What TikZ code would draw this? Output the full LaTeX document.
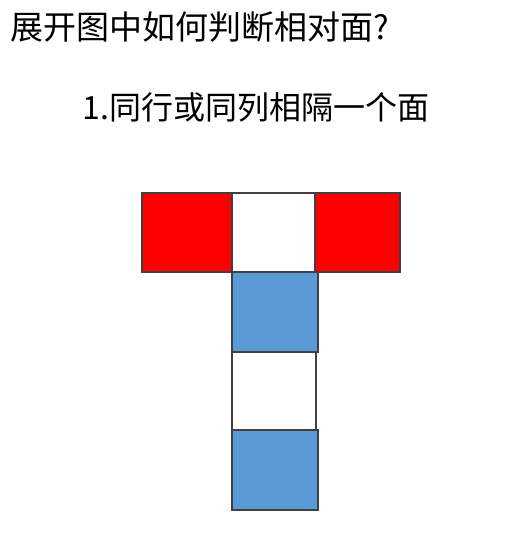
\documentclass[tikz,border=0pt]{standalone}
\usepackage{fontspec}
\usepackage{xcolor}
\usepackage{tikz}
\newfontfamily\cjk{Noto Sans CJK SC}
\definecolor{FaceRed}{HTML}{FF0000}
\definecolor{FaceBlue}{HTML}{5B9BD5}
\definecolor{FaceLine}{HTML}{404040}
\tikzset{
  face/.style={draw=FaceLine,line width=1.2pt,inner sep=0pt,outer sep=0pt},
  headline/.style={font=\cjk\fontsize{33}{40}\selectfont,inner sep=0pt}
}
\begin{document}
\begin{tikzpicture}[x=1pt,y=1pt]
\path[use as bounding box] (0,0) rectangle (521,542);
\fill[white] (0,0) rectangle (521,542);
\node[headline,anchor=base west] (title) at (10,502) {展开图中如何判断相对面?};
\node[headline,anchor=base,font=\cjk\fontsize{32}{40}\selectfont] (rule) at (256,422) {1.同行或同列相隔一个面};
\node[face,fill=FaceRed,minimum width=90,minimum height=79] (left) at (187,309.5) {};
\node[face,fill=white,minimum width=83,minimum height=79] (top) at (273.5,309.5) {};
\node[face,fill=FaceRed,minimum width=85,minimum height=79] (right) at (357.5,309.5) {};
\node[face,fill=FaceBlue,minimum width=86,minimum height=80] (front) at (275,230) {};
\node[face,fill=white,minimum width=84,minimum height=78] (bottom) at (274,151) {};
\node[face,fill=FaceBlue,minimum width=86,minimum height=80] (back) at (275,72) {};
\end{tikzpicture}
\end{document}
